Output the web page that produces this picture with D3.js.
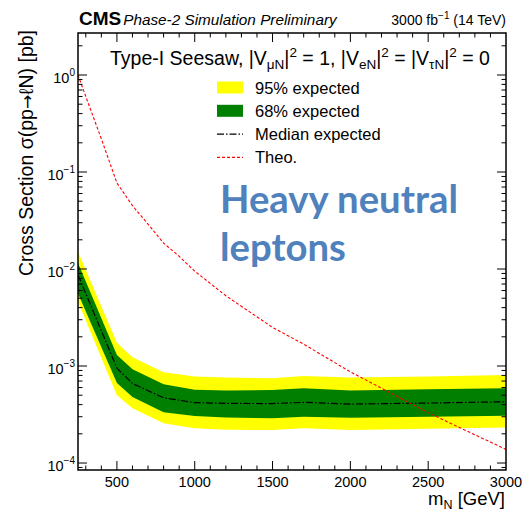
<!DOCTYPE html>
<html><head><meta charset="utf-8">
<script src="https://cdn.jsdelivr.net/npm/d3@7"></script>
<style>html,body{margin:0;padding:0;background:#fff;}svg{display:block;}</style>
</head><body>
<svg id="c" width="523" height="515"></svg>
<script>
// ---- data ----
const masses   = [250, 500, 600, 800, 1000, 1200, 1500, 1700, 2000, 2500, 3000];
const exp95Up  = [1.51e-2, 1.74e-3, 1.23e-3, 8.6e-4, 7.8e-4, 7.6e-4, 7.5e-4, 7.9e-4, 7.6e-4, 7.8e-4, 8.1e-4];
const exp68Up  = [1.15e-2, 1.30e-3, 9.25e-4, 6.5e-4, 5.7e-4, 5.6e-4, 5.65e-4, 5.9e-4, 5.6e-4, 5.75e-4, 5.9e-4];
const median   = [8.7e-3, 9.5e-4, 6.6e-4, 4.7e-4, 4.2e-4, 4.12e-4, 4.1e-4, 4.22e-4, 4.05e-4, 4.15e-4, 4.28e-4];
const exp68Dn  = [5.6e-3, 6.7e-4, 4.8e-4, 3.33e-4, 3.05e-4, 2.95e-4, 2.9e-4, 3.0e-4, 2.93e-4, 3.0e-4, 3.07e-4];
const exp95Dn  = [4.6e-3, 5.0e-4, 3.67e-4, 2.57e-4, 2.28e-4, 2.2e-4, 2.19e-4, 2.28e-4, 2.19e-4, 2.25e-4, 2.33e-4];
const theoMass = [250, 300, 400, 500, 600, 700, 800, 900, 1000, 1200, 1500, 1700, 2000, 2500, 3000];
const theoXs   = [1.0, 0.6, 0.22, 0.077, 0.045, 0.029, 0.0185, 0.0135, 0.0095, 0.0053, 0.0025, 0.00168, 0.00087, 0.00033, 0.000138];
const xTickVals = [500, 1000, 1500, 2000, 2500, 3000];
const xTickLabels = ["500", "1000", "1500", "2000", "2500", "3000"];
const yTickExps = [0, -1, -2, -3, -4];
const legendLabels = ["95% expected", "68% expected", "Median expected", "Theo."];

// ---- layout ----
const L = 78, R = 506, T = 33, B = 470;
const svg = d3.select("#c");
const font = "'Liberation Sans', Arial, Helvetica, sans-serif";
const x = d3.scaleLinear().domain([250, 3000]).range([L, R]);
const y = d3.scaleLog().domain([Math.pow(10, -4.072), Math.pow(10, 0.433)]).range([B, T]);

svg.append("defs").append("clipPath").attr("id", "clip")
  .append("rect").attr("x", L).attr("y", T).attr("width", R - L).attr("height", B - T);

const band = masses.map((m, i) => ({m, u95: exp95Up[i], u68: exp68Up[i], med: median[i], d68: exp68Dn[i], d95: exp95Dn[i]}));
const g = svg.append("g").attr("clip-path", "url(#clip)");
g.append("path").datum(band)
  .attr("d", d3.area().x(d => x(d.m)).y0(d => y(d.d95)).y1(d => y(d.u95)))
  .attr("fill", "#ffff00");
g.append("path").datum(band)
  .attr("d", d3.area().x(d => x(d.m)).y0(d => y(d.d68)).y1(d => y(d.u68)))
  .attr("fill", "#007f00");
g.append("path").datum(band)
  .attr("d", d3.line().x(d => x(d.m)).y(d => y(d.med)))
  .attr("fill", "none").attr("stroke", "#000").attr("stroke-width", 1.2)
  .attr("stroke-dasharray", "7,2,1.5,2");
const theo = theoMass.map((m, i) => ({m, v: theoXs[i]}));
g.append("path").datum(theo)
  .attr("d", d3.line().x(d => x(d.m)).y(d => y(d.v)))
  .attr("fill", "none").attr("stroke", "#ff0000").attr("stroke-width", 1.1)
  .attr("stroke-dasharray", "3,2");

// ---- frame & ticks ----
const ax = svg.append("g").attr("stroke", "#000").attr("stroke-width", 1);
for (let m = 300; m < 3000; m += 100) {
  const major = m % 500 === 0;
  const len = major ? 9 : 4.5;
  ax.append("line").attr("x1", x(m)).attr("x2", x(m)).attr("y1", B).attr("y2", B - len);
  ax.append("line").attr("x1", x(m)).attr("x2", x(m)).attr("y1", T).attr("y2", T + len);
}
for (let e = -5; e <= 0; e++) {
  for (let k = 1; k <= 9; k++) {
    const v = k * Math.pow(10, e);
    const yy = y(v);
    if (yy < T || yy > B) continue;
    const len = k === 1 ? 9 : 4.5;
    ax.append("line").attr("x1", L).attr("x2", L + len).attr("y1", yy).attr("y2", yy);
    ax.append("line").attr("x1", R).attr("x2", R - len).attr("y1", yy).attr("y2", yy);
  }
}
svg.append("rect").attr("x", L).attr("y", T).attr("width", R - L).attr("height", B - T)
  .attr("fill", "none").attr("stroke", "#000").attr("stroke-width", 1.5);

// tick labels
xTickVals.forEach((v, i) => {
  svg.append("text").attr("x", x(v)).attr("y", 487).attr("text-anchor", "middle")
    .attr("font-family", font).attr("font-size", 14.5).text(xTickLabels[i]);
});
yTickExps.forEach(e => {
  const t = svg.append("text").attr("x", 75).attr("y", y(Math.pow(10, e)) + 8).attr("text-anchor", "end")
    .attr("font-family", font).attr("font-size", 14.5);
  t.append("tspan").text("10");
  t.append("tspan").attr("font-size", 10).attr("dy", -7).text(e === 0 ? "0" : "\u2212" + (-e));
});

// axis titles
svg.append("text").attr("x", 505).attr("y", 505).attr("text-anchor", "end")
  .attr("font-family", font).attr("font-size", 18.5)
  .call(t => {
    t.append("tspan").text("m");
    t.append("tspan").attr("font-size", 12.5).attr("dy", 4).text("N");
    t.append("tspan").attr("dy", -4).text(" [GeV]");
  });
svg.append("text").attr("transform", "translate(33,30) rotate(-90)").attr("text-anchor", "end")
  .attr("font-family", font).attr("font-size", 19.5)
  .call(t => {
    t.append("tspan").text("Cross Section \u03c3(pp");
    t.append("tspan").attr("font-family", "'DejaVu Sans', sans-serif").attr("font-size", 17).text("\u2192");
    t.append("tspan").text("\u2113N) [pb]");
  });

// header
const hdr = svg.append("text").attr("x", 79).attr("y", 25).attr("font-family", font);
hdr.append("tspan").attr("font-weight", "bold").attr("font-size", 19).text("CMS");
hdr.append("tspan").attr("font-style", "italic").attr("font-size", 15.3).attr("dx", 2).text("Phase-2 Simulation Preliminary");
const lumi = svg.append("text").attr("x", 506).attr("y", 25).attr("text-anchor", "end")
  .attr("font-family", font).attr("font-size", 14);
lumi.append("tspan").text("3000 fb");
lumi.append("tspan").attr("font-size", 10).attr("dy", -6).text("\u22121");
lumi.append("tspan").attr("dy", 6).text(" (14 TeV)");

// legend title
const lt = svg.append("text").attr("x", 110).attr("y", 65).attr("font-family", font).attr("font-size", 19.5);
lt.append("tspan").text("Type-I Seesaw, |V");
lt.append("tspan").attr("font-size", 13.5).attr("dy", 4).text("\u03bcN");
lt.append("tspan").attr("dy", -4).text("|");
lt.append("tspan").attr("font-size", 13.5).attr("dy", -8).text("2");
lt.append("tspan").attr("dy", 8).text(" = 1, |V");
lt.append("tspan").attr("font-size", 13.5).attr("dy", 4).text("eN");
lt.append("tspan").attr("dy", -4).text("|");
lt.append("tspan").attr("font-size", 13.5).attr("dy", -8).text("2");
lt.append("tspan").attr("dy", 8).text(" = |V");
lt.append("tspan").attr("font-size", 13.5).attr("dy", 4).text("\u03c4N");
lt.append("tspan").attr("dy", -4).text("|");
lt.append("tspan").attr("font-size", 13.5).attr("dy", -8).text("2");
lt.append("tspan").attr("dy", 8).text(" = 0");

// legend entries
const ly0 = 87.5, ldy = 23.3;
legendLabels.forEach((lab, i) => {
  const cy = ly0 + i * ldy;
  if (i === 0 || i === 1) {
    svg.append("rect").attr("x", 217).attr("y", cy - 6).attr("width", 26).attr("height", 12)
      .attr("fill", i === 0 ? "#ffff00" : "#007f00");
  } else {
    svg.append("line").attr("x1", 217).attr("x2", 243).attr("y1", cy).attr("y2", cy)
      .attr("stroke", i === 2 ? "#000" : "#ff0000").attr("stroke-width", 1.1)
      .attr("stroke-dasharray", i === 2 ? "7,2,1.5,2" : "3,2");
  }
  svg.append("text").attr("x", 255).attr("y", cy + 6).attr("font-family", font).attr("font-size", 16.5).text(lab);
});

// overlay annotation
const ann = svg.append("g").attr("font-family", "Lato, 'Open Sans', sans-serif").attr("font-weight", "bold")
  .attr("fill", "#4f81bd").attr("font-size", 39);
const a1 = ann.append("text").attr("x", 220).attr("y", 213).text("Heavy neutral");
const a2 = ann.append("text").attr("x", 220).attr("y", 261).text("leptons");
const w1 = a1.node().getComputedTextLength();
const s = 238 / w1;
ann.attr("font-size", 39 * s);
</script>
</body></html>
